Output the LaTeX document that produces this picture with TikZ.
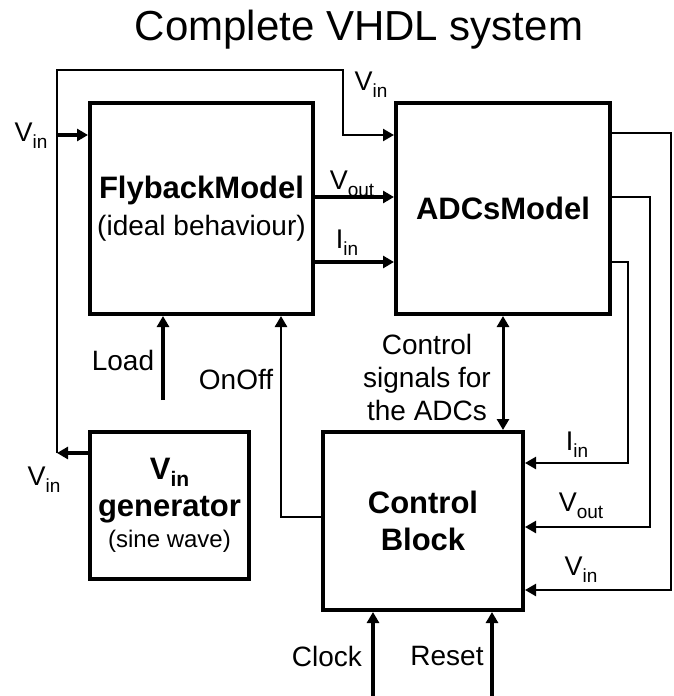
\documentclass[tikz,border=0pt]{standalone}
\usepackage{fontspec}
\setmainfont{Liberation Sans}
\usetikzlibrary{arrows.meta, positioning, calc}

\newcommand{\subtxt}[2][19]{\raisebox{-7pt}{\fontsize{#1}{#1}\selectfont #2}}

\begin{document}
\begin{tikzpicture}[x=1pt, y=-1pt,
  block/.style={draw, line width=4pt, align=center, font=\fontsize{31}{37}\selectfont\bfseries},
  arr/.style={line width=3.5pt, -{Triangle[length=11pt, width=12pt]}},
  wire/.style={line width=2.3pt, -{Triangle[length=11pt, width=12pt]}},
  lbl/.style={font=\fontsize{27}{33}\selectfont, inner sep=0pt}]
  \useasboundingbox (0,0) rectangle (674,696);

  \node (title) at (359,30) [font=\fontsize{42}{48}\selectfont] {Complete VHDL system};

  % blocks
  \node (fly) at (201.5,208.5) [block, minimum width=223pt, minimum height=211pt] {FlybackModel\\{\mdseries\fontsize{28}{37}\selectfont (ideal behaviour)}};
  \node (adcs) at (503,208.5) [block, minimum width=214pt, minimum height=211pt] {ADCsModel};
  \node (gen) at (169.5,505.5) [block, minimum width=159pt, minimum height=147pt] {V\subtxt[21]{in}\\generator\\[-6pt]{\mdseries\fontsize{24}{28}\selectfont (sine wave)}};
  \node (ctrl) at (423,521) [block, minimum width=200pt, minimum height=178pt] {Control\\Block};

  % free ends of the wires
  \coordinate (vinL) at (57,453);
  \coordinate (vinIn) at (57,135);
  \coordinate (vinTop) at (343,70);
  \coordinate (load) at (163,400);
  \coordinate (clk) at (373,696);
  \coordinate (rst) at (492,696);
  \coordinate (iinR) at (628,463);
  \coordinate (voutR) at (650,527);
  \coordinate (vinR) at (671,590);

  % Vin distribution
  \draw[arr] (vinL -| gen.west) -- (vinL);
  \draw[wire] (vinL) |- (vinTop) |- ([yshift=73.5pt]adcs.west);
  \draw[arr] (vinIn) -- (vinIn -| fly.west);

  % flyback to ADCs
  \draw[arr] ([yshift=11.5pt]fly.east) -- ([yshift=11.5pt]adcs.west);
  \draw[arr] ([yshift=-53.5pt]fly.east) -- ([yshift=-53.5pt]adcs.west);

  % ADCs back to the control block
  \draw[wire] ([yshift=-53.5pt]adcs.east) -| (iinR) -- ([yshift=58pt]ctrl.east);
  \draw[wire] ([yshift=11.5pt]adcs.east) -| (voutR) -- ([yshift=-6pt]ctrl.east);
  \draw[wire] ([yshift=75.5pt]adcs.east) -| (vinR) -- ([yshift=-69pt]ctrl.east);
  \draw[line width=3pt, {Triangle[length=11pt, width=12pt]}-{Triangle[length=11pt, width=12pt]}] (adcs.south) -- (adcs.south |- ctrl.north);

  % other inputs
  \draw[arr] (load) -- (load |- fly.south);
  \draw[wire, line width=2.6pt] ([yshift=4pt]ctrl.west) -| ([xshift=79.5pt]fly.south);
  \draw[arr] (clk) -- (clk |- ctrl.south);
  \draw[arr] (rst) -- (rst |- ctrl.south);

  % labels
  \node (vinA) at (31,136) [lbl] {V\subtxt{in}};
  \node (vinB) at (371,85) [lbl] {V\subtxt{in}};
  \node (voutA) at (352,184) [lbl] {V\subtxt{out}};
  \node (iinA) at (347,243) [lbl] {I\subtxt{in}};
  \node (iinB) at (577,445) [lbl] {I\subtxt{in}};
  \node (voutB) at (581,506) [lbl] {V\subtxt{out}};
  \node (vinC) at (581,570) [lbl] {V\subtxt{in}};
  \node (vinD) at (44,480) [lbl] {V\subtxt{in}};
  \node (loadtxt) at (123,360) [lbl, font=\fontsize{28}{33}\selectfont] {Load};
  \node (onofftxt) at (236,380) [lbl, font=\fontsize{28}{33}\selectfont] {OnOff};
  \node (clktxt) at (327,656) [lbl, font=\fontsize{28}{33}\selectfont] {Clock};
  \node (rsttxt) at (447,656) [lbl, font=\fontsize{28}{33}\selectfont] {Reset};
  \node (sigtxt) at (427,377) [lbl, font=\fontsize{28}{33}\selectfont, align=center] {Control\\signals for\\the ADCs};
\end{tikzpicture}
\end{document}
